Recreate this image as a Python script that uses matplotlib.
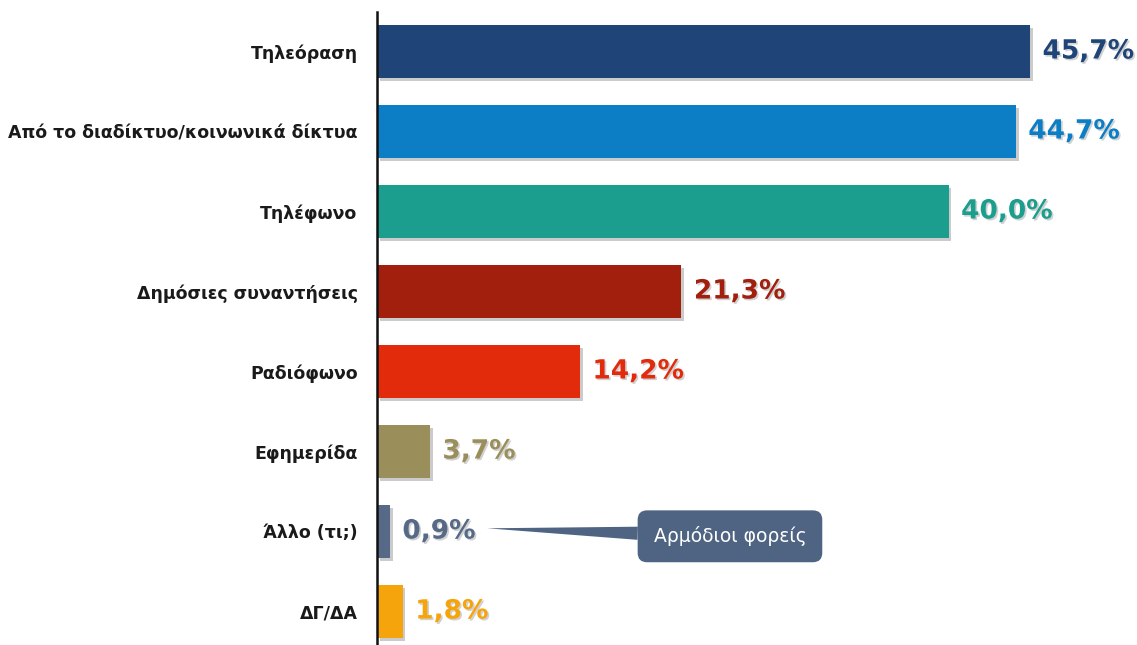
import matplotlib.pyplot as plt
import matplotlib.patheffects as pe

categories = ['Τηλεόραση', 'Από το διαδίκτυο/κοινωνικά δίκτυα', 'Τηλέφωνο',
              'Δημόσιες συναντήσεις', 'Ραδιόφωνο', 'Εφημερίδα', 'Άλλο (τι;)', 'ΔΓ/ΔΑ']
values = [45.7, 44.7, 40.0, 21.3, 14.2, 3.7, 0.9, 1.8]
value_labels = ['45,7%', '44,7%', '40,0%', '21,3%', '14,2%', '3,7%', '0,9%', '1,8%']
colors = ['#1F4478', '#0B7EC6', '#1B9E8D', '#A11F0C', '#E12B0B', '#9A8F5B', '#566A88', '#F5A40C']
callout_text = 'Αρμόδιοι φορείς'

plt.rcParams['font.family'] = ['DejaVu Sans']

fig = plt.figure(figsize=(11.37, 6.45), dpi=100)
ax = fig.add_axes([377/1137, 0, 1 - 377/1137, 1 - 12/645])

shadow = [pe.SimplePatchShadow(offset=(2, -2), shadow_rgbFace='#999999', alpha=0.5), pe.Normal()]
ypos = list(range(len(categories)))
bars = ax.barh(ypos, values, height=0.66, color=colors)
for b in bars:
    b.set_path_effects(shadow)

for i, v in enumerate(values):
    t = ax.annotate(value_labels[i], (v, i), xytext=(9, 0), textcoords='offset points',
                    va='center', ha='left', fontsize=19, fontweight='bold', color=colors[i])
    t.set_path_effects([pe.SimplePatchShadow(offset=(1.2, -1.2), shadow_rgbFace='#999999', alpha=0.45), pe.Normal()])

ax.set_xlim(0, (1137 - 377) / 14.29)
ax.set_ylim(7 + (645 - 611.5) / 80, -(51.5 - 12) / 80)
ax.set_yticks(ypos)
ax.set_yticklabels(categories, fontsize=12.5, fontweight='bold', color='#1a1a1a')
ax.tick_params(axis='y', length=0, pad=14)
ax.set_xticks([])
for s in ['top', 'right', 'bottom']:
    ax.spines[s].set_visible(False)
ax.spines['left'].set_linewidth(1.8)
ax.spines['left'].set_color('#111111')

ax.annotate(callout_text, xy=(7.7, 5.96), xytext=(24.7, 6.06),
            ha='center', va='center', fontsize=13.5, color='white',
            bbox=dict(boxstyle='round,pad=0.85,rounding_size=0.5', fc='#4F6482', ec='none'),
            arrowprops=dict(arrowstyle='wedge,tail_width=0.7,shrink_factor=0.5', fc='#4F6482', ec='none',
                            shrinkA=0, shrinkB=0))

fig.savefig('out.png', dpi=100)
